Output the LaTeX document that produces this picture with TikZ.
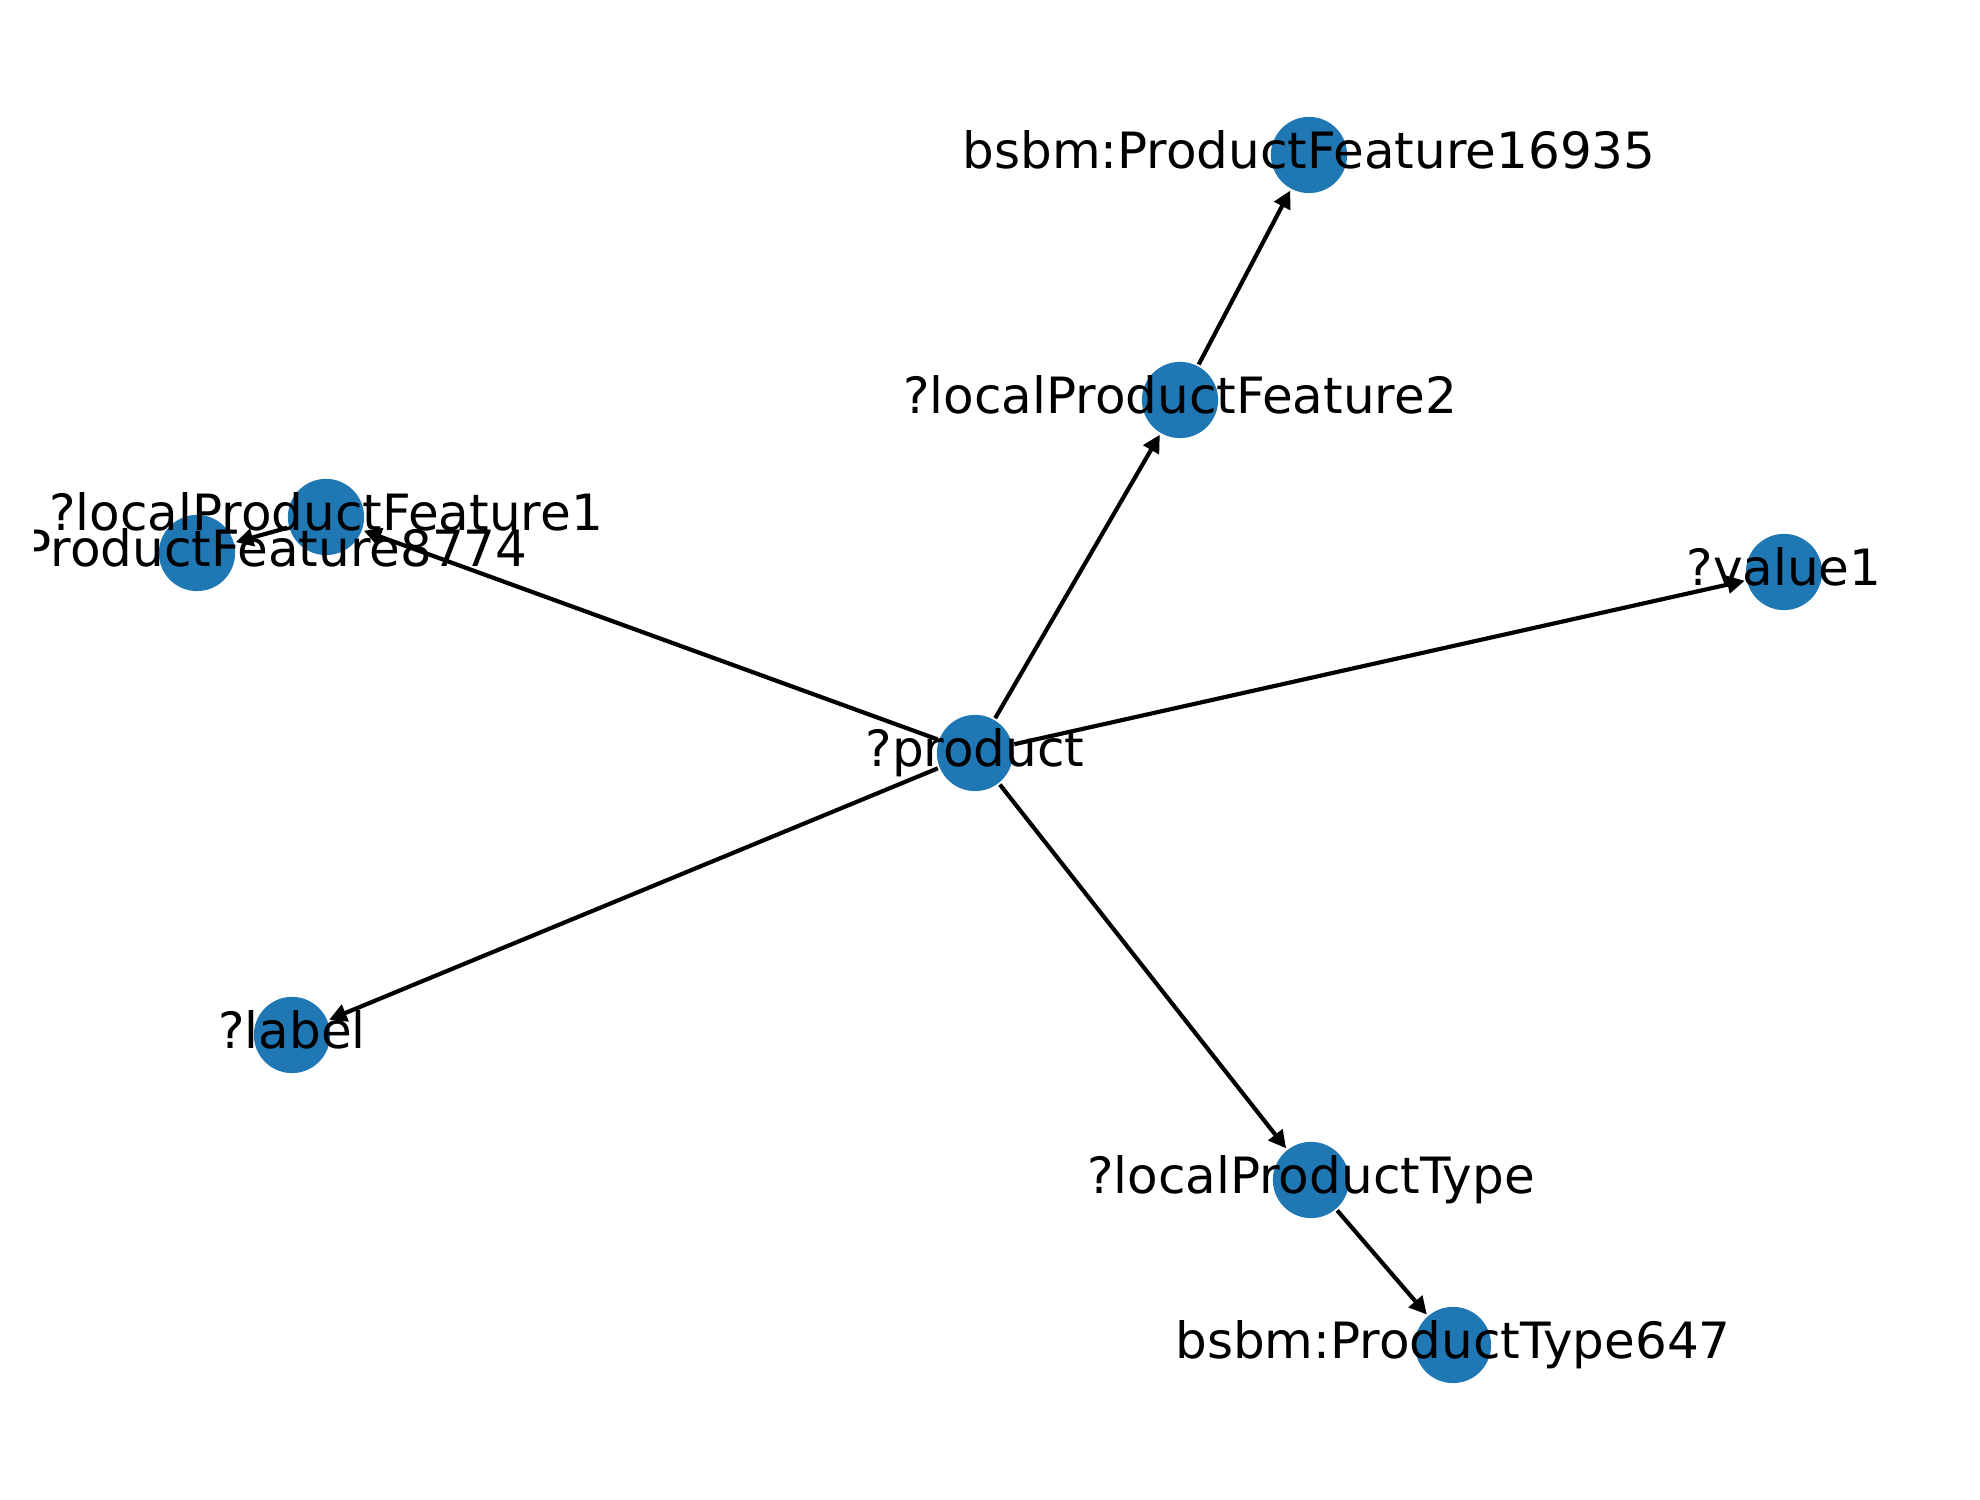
\documentclass[tikz,border=0pt]{standalone}
\usepackage{fontspec}
\setmainfont{DejaVu Sans}
\usetikzlibrary{arrows.meta}

\definecolor{nodeblue}{RGB}{31,119,180}

\tikzset{every picture/.style={line width=1pt}}
\tikzset{
	vertex/.style={circle, fill=nodeblue, draw=none, minimum size=18.3pt, inner sep=0pt},
	vname/.style={inner sep=0pt, text height=8.9pt, text depth=2.6pt, font=\fontsize{12pt}{14pt}\selectfont},
	link/.style={-{Triangle[length=4.2pt,width=4.2pt]}, shorten >=0pt}
}

\begin{document}
\begin{tikzpicture}[x=0.24pt,y=0.24pt,yscale=-1,xscale=1]
	\useasboundingbox (0,0) rectangle (1980,1500);

	%Shape: Circles
	\node[vertex] (product) at (975,753) {};
	\node[vertex] (lpf2) at (1180,400) {};
	\node[vertex] (pf16935) at (1309,155) {};
	\node[vertex] (value1) at (1784,572) {};
	\node[vertex] (lpf1) at (326,517) {};
	\node[vertex] (pf8774) at (197,553) {};
	\node[vertex] (label) at (292,1035) {};
	\node[vertex] (lpt) at (1311,1180) {};
	\node[vertex] (pt647) at (1453,1345) {};

	%Straight Lines
	\draw[link] (product) -- (lpf2);
	\draw[link] (lpf2) -- (pf16935);
	\draw[link] (product) -- (value1);
	\draw[link] (product) -- (lpf1);
	\draw[link] (lpf1) -- (pf8774);
	\draw[link] (product) -- (label);
	\draw[link] (product) -- (lpt);
	\draw[link] (lpt) -- (pt647);

	% Text Node (cut at the plot's left edge)
	\begin{scope}
	\clip (34,0) rectangle (1980,1500);
	\node[vname] (product-t) at (product) {?product};
	\node[vname] (lpf2-t) at (lpf2) {?localProductFeature2};
	\node[vname] (pf16935-t) at (pf16935) {bsbm:ProductFeature16935};
	\node[vname] (value1-t) at (value1) {?value1};
	\node[vname] (lpf1-t) at (lpf1) {?localProductFeature1};
	\node[vname] (pf8774-t) at (pf8774) {bsbm:ProductFeature8774};
	\node[vname] (label-t) at (label) {?label};
	\node[vname] (lpt-t) at (lpt) {?localProductType};
	\node[vname] (pt647-t) at (pt647) {bsbm:ProductType647};
	\end{scope}

\end{tikzpicture}
\end{document}
